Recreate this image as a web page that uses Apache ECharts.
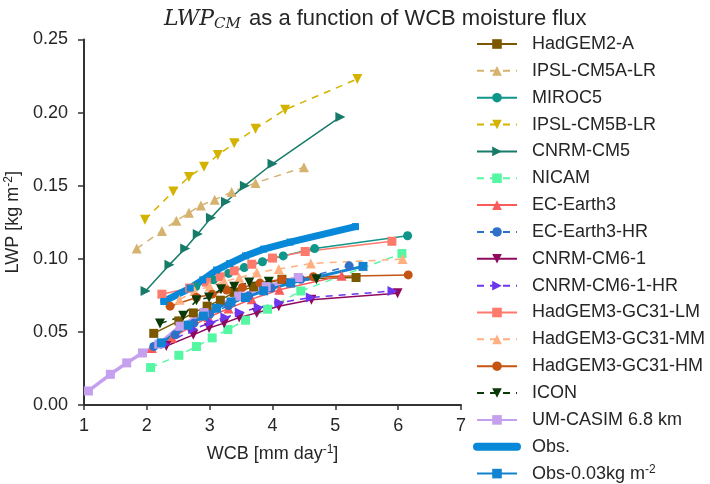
<!DOCTYPE html>
<html>
<head>
<meta charset="utf-8">
<script src="https://cdn.jsdelivr.net/npm/echarts@6/dist/echarts.min.js"></script>
<style>html,body{margin:0;padding:0;background:#fff;}#c{width:710px;height:484px;}</style>
</head>
<body>
<div id="c"></div>
<script>
// ---- data ----
const xTicks = [1, 2, 3, 4, 5, 6, 7];
const yTicks = [0.00, 0.05, 0.10, 0.15, 0.20, 0.25];

const names = ['HadGEM2-A','IPSL-CM5A-LR','MIROC5','IPSL-CM5B-LR','CNRM-CM5','NICAM','EC-Earth3','EC-Earth3-HR','CNRM-CM6-1','CNRM-CM6-1-HR','HadGEM3-GC31-LM','HadGEM3-GC31-MM','HadGEM3-GC31-HM','ICON','UM-CASIM 6.8 km','Obs.','Obs-0.03kg m-2'];

const hadgem2aX = [2.11,2.51,2.74,2.96,3.17,3.39,3.70,4.15,5.33];
const hadgem2aY = [0.049,0.0575,0.063,0.0676,0.0717,0.077,0.0808,0.086,0.0872];
const ipslAX = [1.84,2.24,2.47,2.67,2.86,3.08,3.35,3.73,4.50];
const ipslAY = [0.107,0.119,0.126,0.1315,0.1365,0.1404,0.1457,0.1519,0.1626];
const miroc5X = [2.78,3.06,3.30,3.55,3.84,4.17,4.67,6.15];
const miroc5Y = [0.081,0.0856,0.090,0.094,0.098,0.102,0.107,0.1158];
const ipslBX = [1.97,2.42,2.67,2.91,3.13,3.39,3.73,4.20,5.35];
const ipslBY = [0.1267,0.146,0.156,0.163,0.171,0.179,0.189,0.202,0.223];
const cnrm5X = [1.98,2.36,2.61,2.81,3.02,3.26,3.56,4.00,5.08];
const cnrm5Y = [0.078,0.096,0.107,0.117,0.128,0.139,0.150,0.165,0.197];
const nicamX = [2.06,2.51,2.79,3.04,3.29,3.57,3.92,4.45,6.06];
const nicamY = [0.0256,0.034,0.040,0.0459,0.0516,0.058,0.0655,0.078,0.1036];
const ecX = [2.08,2.40,2.72,2.98,3.30,3.67,4.11,5.10];
const ecY = [0.039,0.046,0.054,0.060,0.066,0.0724,0.0788,0.0884];
const echrX = [2.11,2.45,2.75,3.00,3.30,3.62,3.98,4.45,5.22];
const echrY = [0.040,0.048,0.056,0.062,0.068,0.0745,0.080,0.086,0.0952];
const cnrm6X = [2.31,2.74,2.99,3.23,3.47,3.75,4.10,4.62,5.99];
const cnrm6Y = [0.0404,0.048,0.0527,0.056,0.0598,0.063,0.0676,0.072,0.0765];
const cnrm6hrX = [2.29,2.74,3.02,3.25,3.48,3.78,4.11,4.61,5.91];
const cnrm6hrY = [0.0415,0.0518,0.0564,0.0598,0.0632,0.0667,0.070,0.0735,0.078];
const lmX = [2.24,2.68,2.95,3.17,3.39,3.67,4.00,4.52,5.90];
const lmY = [0.0758,0.080,0.084,0.0877,0.0918,0.0963,0.1005,0.105,0.112];
const mmX = [2.52,2.76,3.00,3.23,3.47,3.75,4.10,4.61,6.07];
const mmY = [0.072,0.078,0.081,0.0845,0.087,0.0906,0.093,0.0968,0.0998];
const hmX = [2.37,2.79,3.04,3.27,3.52,3.80,4.15,4.65,6.16];
const hmY = [0.0676,0.0735,0.0758,0.0786,0.0804,0.0834,0.086,0.0877,0.089];
const iconX = [2.21,2.58,2.79,2.99,3.18,3.39,3.63,3.94,4.70];
const iconY = [0.0557,0.061,0.0717,0.0735,0.0792,0.0808,0.0838,0.0843,0.086];
const casimX = [1.07,1.42,1.68,1.93,2.19,2.53,2.91,3.46,3.90,4.41];
const casimY = [0.0096,0.021,0.0288,0.0356,0.0416,0.0539,0.0632,0.0745,0.081,0.0872];
const obsX = [2.27,2.69,2.89,3.11,3.32,3.57,3.86,4.28,5.32];
const obsY = [0.0708,0.080,0.0856,0.0923,0.0968,0.102,0.1066,0.1114,0.122];
const obs2X = [2.23,2.66,2.90,3.11,3.34,3.57,3.86,4.29,5.44];
const obs2Y = [0.0425,0.0546,0.0608,0.0662,0.0705,0.0735,0.0781,0.0834,0.0948];

// ---- styling ----
const DASH = [7, 6];
const styles = [
  {x:hadgem2aX,y:hadgem2aY,c:'#7b5800',s:'rect',sz:9,rot:0,w:1.5,d:false},
  {x:ipslAX,y:ipslAY,c:'#d5b26e',s:'triangle',sz:10,rot:0,w:1.5,d:true},
  {x:miroc5X,y:miroc5Y,c:'#0f968a',s:'circle',sz:9,rot:0,w:1.5,d:false},
  {x:ipslBX,y:ipslBY,c:'#d4b300',s:'triangle',sz:10,rot:180,w:1.5,d:true},
  {x:cnrm5X,y:cnrm5Y,c:'#177b6a',s:'triangle',sz:10,rot:-90,w:1.5,d:false},
  {x:nicamX,y:nicamY,c:'#55f7a3',s:'rect',sz:9,rot:0,w:1.5,d:true},
  {x:ecX,y:ecY,c:'#fb5a5a',s:'triangle',sz:10,rot:0,w:1.5,d:false},
  {x:echrX,y:echrY,c:'#2f71c8',s:'circle',sz:9,rot:0,w:1.5,d:true},
  {x:cnrm6X,y:cnrm6Y,c:'#8f0a5e',s:'triangle',sz:10,rot:180,w:1.5,d:false},
  {x:cnrm6hrX,y:cnrm6hrY,c:'#6c36ee',s:'triangle',sz:10,rot:-90,w:1.5,d:true},
  {x:lmX,y:lmY,c:'#fd7a6c',s:'rect',sz:9,rot:0,w:1.5,d:false},
  {x:mmX,y:mmY,c:'#ffb080',s:'triangle',sz:10,rot:0,w:1.5,d:true},
  {x:hmX,y:hmY,c:'#c55312',s:'circle',sz:9,rot:0,w:1.5,d:false},
  {x:iconX,y:iconY,c:'#0a3a0a',s:'triangle',sz:10,rot:180,w:1.5,d:true},
  {x:casimX,y:casimY,c:'#c5a0ee',s:'rect',sz:9,rot:0,w:3.5,d:false},
  {x:obsX,y:obsY,c:'#0888d8',s:'rect',sz:7,rot:0,w:7,d:false},
  {x:obs2X,y:obs2Y,c:'#1283d0',s:'rect',sz:9,rot:0,w:3,d:false}
];

const series = styles.map((st, i) => ({
  name: names[i],
  type: 'line',
  data: st.x.map((v, k) => [v, st.y[k]]),
  symbol: st.s,
  symbolSize: st.sz,
  symbolRotate: st.rot,
  showAllSymbol: true,
  animation: false,
  itemStyle: {color: st.c, borderWidth: 0},
  lineStyle: {color: st.c, width: st.w, type: st.d ? DASH : 'solid', cap: st.w > 5 ? 'round' : 'butt'},
  emphasis: {disabled: true}
}));

const legendData = names.map(n => n === 'Obs.'
  ? {name: n, itemStyle: {opacity: 0}, lineStyle: {width: 8, cap: 'round'}}
  : {name: n});

const TXT = '#262626';
const AX = '#333333';
const FONT = 'Liberation Sans, Arial, sans-serif';

const chart = echarts.init(document.getElementById('c'), null, {renderer: 'canvas'});
chart.setOption({
  backgroundColor: '#ffffff',
  animation: false,
  title: {
    text: '{i|LWP}{s|CM} as a function of WCB moisture flux',
    left: 159, top: 0,
    textStyle: {
      fontFamily: FONT, fontSize: 22, fontWeight: 'normal', color: TXT,
      rich: {
        i: {fontFamily: 'DejaVu Serif', fontStyle: 'italic', fontSize: 22, color: TXT, lineHeight: 28},
        s: {fontFamily: 'DejaVu Serif', fontStyle: 'italic', fontSize: 15, color: TXT, lineHeight: 28, padding: [10, 2, 0, 0]}
      }
    }
  },
  grid: {left: 84, right: 249, top: 39.5, bottom: 79, containLabel: false, outerBoundsMode: 'none'},
  xAxis: {
    type: 'value', min: xTicks[0], max: xTicks[xTicks.length - 1], interval: 1,
    name: 'WCB [mm day{sup|-1}]', nameLocation: 'middle', nameGap: 39,
    nameTextStyle: {fontFamily: FONT, fontSize: 18, color: TXT,
      rich: {sup: {fontFamily: FONT, fontSize: 12, color: TXT, padding: [0, 0, 9, 0]}}},
    axisLine: {show: true, lineStyle: {color: AX, width: 2}},
    axisTick: {show: true, length: 5, lineStyle: {color: AX, width: 1.5}},
    axisLabel: {fontFamily: FONT, fontSize: 18, color: TXT, margin: 12},
    splitLine: {show: false}
  },
  yAxis: {
    type: 'value', min: yTicks[0], max: yTicks[yTicks.length - 1], interval: 0.05,
    name: 'LWP [kg m{sup|-2}]', nameLocation: 'middle', nameGap: 54,
    nameTextStyle: {fontFamily: FONT, fontSize: 18, color: TXT,
      rich: {sup: {fontFamily: FONT, fontSize: 12, color: TXT, padding: [0, 0, 9, 0]}}},
    axisLine: {show: true, lineStyle: {color: AX, width: 2}},
    axisTick: {show: true, length: 6, lineStyle: {color: AX, width: 1.5}},
    axisLabel: {fontFamily: FONT, fontSize: 18, color: TXT, margin: 16, formatter: v => v.toFixed(2)},
    splitLine: {show: false}
  },
  legend: {
    orient: 'vertical', left: 473, top: 34, height: 520, padding: 0,
    itemWidth: 40, itemHeight: 12, itemGap: 6.85,
    data: legendData,
    selectedMode: false,
    formatter: n => n === 'Obs-0.03kg m-2' ? 'Obs-0.03kg m{sup|-2}' : n,
    textStyle: {fontFamily: FONT, fontSize: 18, color: TXT, lineHeight: 20, padding: [0, 0, 0, 10],
      rich: {sup: {fontFamily: FONT, fontSize: 12, color: TXT, lineHeight: 12, padding: [0, 0, 8, 0]}}}
  },
  series: series
});
</script>
</body>
</html>
